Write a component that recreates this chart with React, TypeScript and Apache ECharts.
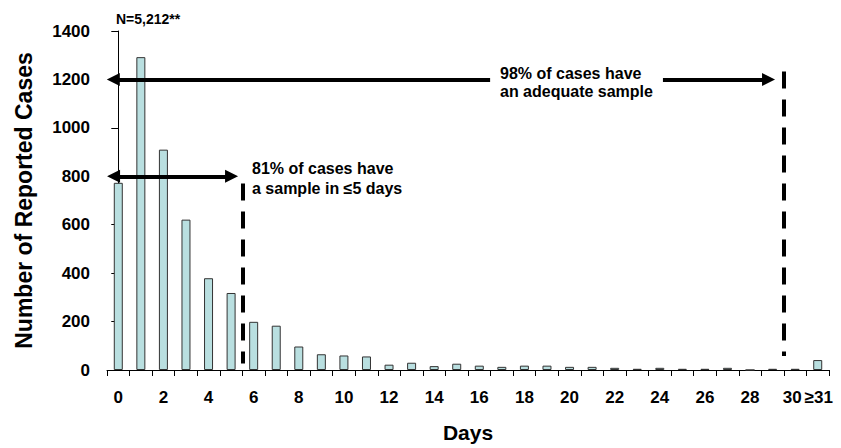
import React, { useEffect, useRef } from "react";
import * as echarts from "echarts";

const categories = [
  "0","1","2","3","4","5","6","7","8","9","10","11","12","13","14","15",
  "16","17","18","19","20","21","22","23","24","25","26","27","28","29","30","≥31",
];
const reportedCases = [
  773, 1292, 910, 621, 379, 318, 199, 183, 97, 65, 60, 56, 22, 30, 16, 26,
  18, 13, 18, 18, 13, 13, 9, 5, 9, 5, 5, 9, 0, 5, 5, 41,
];
const yTicks = { min: 0, max: 1400, interval: 200 };

// annotation geometry in data coordinates (x: category position, y: cases)
const upperArrowLeft = [[-0.22, 1200], [16.48, 1200]];
const upperArrowRight = [[24.14, 1200], [28.82, 1200]];
const lowerArrow = [[-0.21, 800], [5.02, 800]];
const dashedLine5 = [[5.5, 770], [5.5, 27]];
const dashedLine30 = [[29.5, 1233], [29.5, 58]];

const FONT = '"Liberation Sans", Arial, sans-serif';

export default function App() {
  const ref = useRef<HTMLDivElement>(null);
  useEffect(() => {
    if (!ref.current) return;
    const chart = echarts.init(ref.current, null, { renderer: "svg" });
    const seg = (pts: number[][], sym: string[]) => [
      { coord: pts[0], symbol: sym[0] },
      { coord: pts[1], symbol: sym[1] },
    ];
    const lblStyle = { color: "#000", fontFamily: FONT, fontWeight: "bold", fontSize: 17 };
    chart.setOption({
      animation: false,
      backgroundColor: "#fff",
      grid: { left: 107, right: 12, top: 31, bottom: 75, containLabel: false },
      xAxis: [
        {
          type: "category",
          data: categories,
          boundaryGap: true,
          axisLine: { show: true, lineStyle: { color: "#000", width: 1 } },
          axisTick: { show: true, alignWithLabel: false, length: 6, interval: 0, lineStyle: { color: "#000" } },
          axisLabel: {
            interval: (i: number) => i % 2 === 0 || i === 31,
            showMaxLabel: true,
            hideOverlap: false,
            ...lblStyle,
            margin: 19,
            formatter: (v: string) => (v === "30" ? "{l|30}" : v === "≥31" ? "{r|≥31}" : v),
            rich: {
              l: { ...lblStyle, padding: [0, 6, 0, 0] },
              r: { ...lblStyle, padding: [0, 0, 0, 2] },
            },
          },
          name: "Days",
          nameLocation: "middle",
          nameGap: 52,
          nameTextStyle: { color: "#000", fontFamily: FONT, fontWeight: "bold", fontSize: 21 },
          splitLine: { show: false },
        },
        {
          type: "value",
          min: -0.5,
          max: 31.5,
          show: false,
          splitLine: { show: false },
        },
      ],
      yAxis: {
        type: "value",
        min: yTicks.min,
        max: yTicks.max,
        interval: yTicks.interval,
        axisLine: { show: true, lineStyle: { color: "#000", width: 1 } },
        axisTick: { show: true, length: 7, lineStyle: { color: "#000" } },
        axisLabel: { ...lblStyle, margin: 17, formatter: (v: number) => String(v) },
        splitLine: { show: false },
        name: "Number of Reported Cases",
        nameLocation: "middle",
        nameGap: 72,
        nameTextStyle: { color: "#000", fontFamily: FONT, fontWeight: "bold", fontSize: 23 },
      },
      series: [
        {
          type: "bar",
          data: reportedCases,
          barWidth: 9,
          itemStyle: { color: "#b9dfe0", borderColor: "#333", borderWidth: 1 },
        },
        {
          type: "line",
          xAxisIndex: 1,
          yAxisIndex: 0,
          data: [],
          silent: true,
          markLine: {
            silent: true,
            animation: false,
            symbolSize: 13,
            label: { show: false },
            lineStyle: { color: "#000", width: 4, type: "solid" },
            data: [
              seg(upperArrowLeft, ["triangle", "none"]),
              seg(upperArrowRight, ["none", "triangle"]),
              seg(lowerArrow, ["triangle", "triangle"]),
            ],
          },
        },
        {
          type: "line",
          xAxisIndex: 1,
          yAxisIndex: 0,
          data: [],
          silent: true,
          markLine: {
            silent: true,
            animation: false,
            symbol: ["none", "none"],
            label: { show: false },
            lineStyle: { color: "#000", width: 4, type: [17, 11] },
            data: [seg(dashedLine5, ["none", "none"]), seg(dashedLine30, ["none", "none"])],
          },
        },
      ],
      graphic: [
        {
          type: "text",
          left: 116,
          top: 12,
          style: { text: "N=5,212**", font: `bold 14px ${FONT}`, fill: "#000" },
        },
        {
          type: "text",
          left: 500,
          top: 64,
          style: {
            text: "98% of cases have\nan adequate sample",
            font: `bold 16px ${FONT}`,
            fill: "#000",
            lineHeight: 18,
          },
        },
        {
          type: "text",
          left: 252,
          top: 158,
          style: {
            text: "81% of cases have\na sample in ≤5 days",
            font: `bold 16px ${FONT}`,
            fill: "#000",
            lineHeight: 20,
          },
        },
      ],
    });
    return () => chart.dispose();
  }, []);
  return (
    <div
      ref={ref}
      style={{ position: "fixed", left: 0, top: 0, width: 841, height: 448, background: "#fff" }}
    />
  );
}
